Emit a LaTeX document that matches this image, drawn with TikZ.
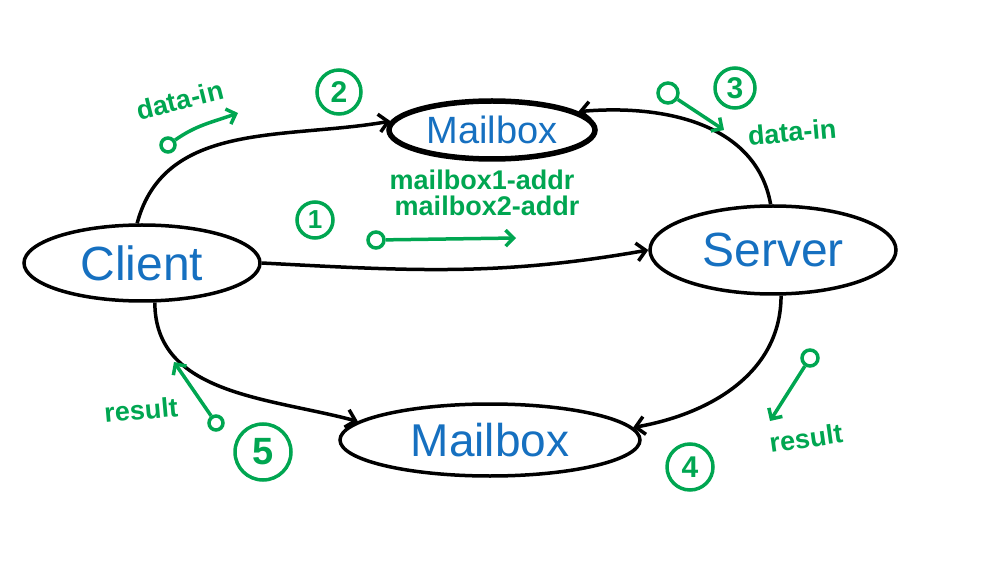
\documentclass[tikz,border=0pt]{standalone}
\usepackage{fontspec}
\setmainfont{Liberation Sans}
\usetikzlibrary{shapes.geometric,arrows.meta}
\definecolor{pen}{RGB}{0,166,81}
\definecolor{ink}{RGB}{22,112,192}
\begin{document}
\begin{tikzpicture}[x=1pt,y=1pt]
	\tikzset{box/.style = {ellipse,draw,line width=3.5pt,text=ink,inner sep=0pt}}
	\tikzset{flow/.style = {->,>={Straight Barb[length=9pt,width=18pt]},line width=3.5pt}}
	\tikzset{num/.style = {circle,draw=pen,line width=3.5pt,text=pen,inner sep=0pt,font=\bfseries\fontsize{30}{30}\selectfont}}
	\tikzset{dot/.style = {circle,draw=pen,line width=3.5pt,inner sep=0pt}}
	\tikzset{hint/.style = {->,>={Straight Barb[length=8pt,width=16pt]},draw=pen,line width=3.5pt}}
	\tikzset{note/.style = {text=pen,inner sep=0pt,font=\bfseries\fontsize{27}{27}\selectfont}}
	\useasboundingbox (0,0) rectangle (995,568);
	\node[box,minimum width=236pt,minimum height=76pt,font=\fontsize{48}{48}\selectfont] (client) at (142,305) {Client};
	\node[box,line width=5.5pt,minimum width=206pt,minimum height=58pt,font=\fontsize{38}{38}\selectfont] (mbtop) at (492,438) {Mailbox};
	\node[box,minimum width=246pt,minimum height=88pt,font=\fontsize{48}{48}\selectfont] (server) at (773,318) {Server};
	\node[box,minimum width=300pt,minimum height=72pt,font=\fontsize{46}{46}\selectfont] (mbbot) at (490,128) {Mailbox};
	\draw[flow] (client.97) to[out=75,in=190] (mbtop.175);
	\draw[flow] (client.east) to[out=-3,in=190] (server.west);
	\draw[flow] (server.93) to[out=100,in=5] (mbtop.12);
	\draw[flow] (server.-80) to[out=-90,in=10] (mbbot.5);
	\draw[flow] (client.-72) to[out=-90,in=165] (mbbot.172);
	% step numbers
	\node[num,minimum size=36pt,font=\bfseries\fontsize{26}{26}\selectfont] (n1) at (315,348) {1};
	\node[num,minimum size=44pt] (n2) at (339,476) {2};
	\node[num,minimum size=40pt] (n3) at (735,480) {3};
	\node[num,minimum size=46pt] (n4) at (690,101) {4};
	\node[num,minimum size=56pt,font=\bfseries\fontsize{38}{38}\selectfont] (n5) at (263,116) {5};
	% notes
	\node[note,rotate=14] (inL) at (180,468) {data-in};
	\node[note,rotate=5] (inR) at (792,436) {data-in};
	\node[note] (addr1) at (482,388) {mailbox1-addr};
	\node[note] (addr2) at (487,362) {mailbox2-addr};
	\node[note,rotate=5] (resL) at (141,158) {result};
	\node[note,rotate=8] (resR) at (806,130) {result};
	\node[dot,minimum size=14pt] (d1) at (168,423) {};
	\coordinate (d1end) at (238,455);
	\node[dot,minimum size=16pt] (d2) at (376,328) {};
	\coordinate (d2end) at (516,330);
	\node[dot,minimum size=20pt] (d3) at (668,475) {};
	\coordinate (d3end) at (724,438);
	\node[dot,minimum size=16pt] (d4) at (810,210) {};
	\coordinate (d4end) at (770,147);
	\node[dot,minimum size=14pt] (d5) at (216,145) {};
	\coordinate (d5end) at (174,206);
	\draw[hint] (d1) to[out=35,in=200] (d1end);
	\draw[hint] (d2) -- (d2end);
	\draw[hint] (d3) -- (d3end);
	\draw[hint] (d4) -- (d4end);
	\draw[hint] (d5) -- (d5end);
\end{tikzpicture}
\end{document}
